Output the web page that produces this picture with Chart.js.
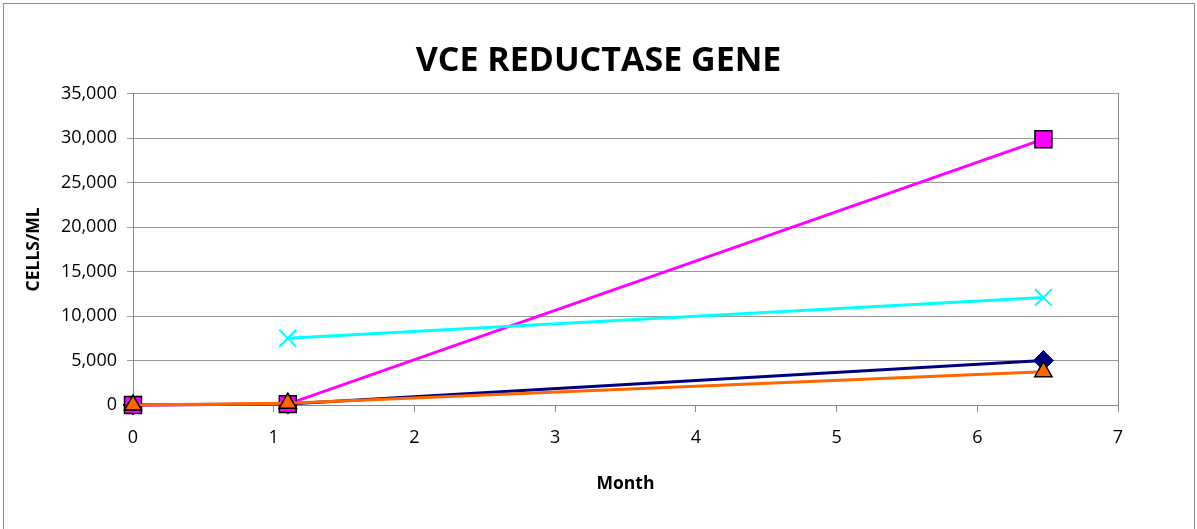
<!DOCTYPE html>
<html>
<head>
<meta charset="utf-8">
<script src="https://cdn.jsdelivr.net/npm/chart.js@4/dist/chart.umd.min.js"></script>
<style>
  body { margin: 0; background: #fff; }
  #wrap { position: absolute; left: 0; top: 0; width: 1197px; height: 529px; }
  #frame { position: absolute; left: 3px; top: 3px; width: 1190px; height: 530px; border: 1px solid #8c8c8c; pointer-events: none; }
</style>
</head>
<body>
<div id="wrap"><canvas id="grafico" width="1197" height="529"></canvas></div>
<div id="frame"></div>
<script>
// datos
const meses = [0, 1.1, 6.47];
const mesesX = [1.1, 6.47];
const serieAzul = [0, 100, 5000];
const serieRosa = [0, 100, 29900];
const serieCian = [7500, 12100];
const serieNaranja = [0, 200, 3750];

const pares = (xs, ys) => xs.map((x, i) => ({ x: x, y: ys[i] }));

const fuente = "'Open Sans', 'Liberation Sans', sans-serif";

const ctx = document.getElementById('grafico').getContext('2d');
new Chart(ctx, {
  type: 'scatter',
  data: {
    datasets: [
      {
        label: 'Serie 1',
        data: pares(meses, serieAzul),
        showLine: true,
        clip: false,
        borderColor: '#000080',
        backgroundColor: '#000080',
        borderWidth: 3,
        pointStyle: 'rectRot',
        pointRadius: 10,
        pointBorderColor: '#000080',
        pointBorderWidth: 1,
        order: 3
      },
      {
        label: 'Serie 2',
        data: pares(meses, serieRosa),
        showLine: true,
        clip: false,
        borderColor: '#ff00ff',
        backgroundColor: '#ff00ff',
        borderWidth: 3,
        pointStyle: 'rect',
        pointRadius: 12,
        pointBorderColor: '#000000',
        pointBorderWidth: 1.5,
        order: 2
      },
      {
        label: 'Serie 3',
        data: pares(mesesX, serieCian),
        showLine: true,
        clip: false,
        borderColor: '#00ffff',
        backgroundColor: '#00ffff',
        borderWidth: 3,
        pointStyle: 'crossRot',
        pointRadius: 12,
        pointBorderColor: '#00ffff',
        pointBorderWidth: 2,
        order: 1
      },
      {
        label: 'Serie 4',
        data: pares(meses, serieNaranja),
        showLine: true,
        clip: false,
        borderColor: '#ff6600',
        backgroundColor: '#ff6600',
        borderWidth: 3,
        pointStyle: 'triangle',
        pointRadius: 10,
        pointBorderColor: '#000000',
        pointBorderWidth: 1.5,
        order: 0
      }
    ]
  },
  options: {
    responsive: false,
    animation: false,
    layout: { padding: 0 },
    plugins: {
      legend: { display: false },
      tooltip: { enabled: false },
      title: {
        display: true,
        text: 'VCE REDUCTASE GENE',
        color: '#000',
        font: { family: fuente, size: 34, weight: 'bold' },
        padding: { top: 41, bottom: 12 }
      }
    },
    scales: {
      x: {
        type: 'linear',
        min: 0,
        max: 7,
        ticks: { stepSize: 1, color: '#000', font: { family: fuente, size: 18 }, padding: 15 },
        grid: { drawOnChartArea: false, color: '#888', tickLength: 7 },
        border: { color: '#888', width: 1 },
        title: { display: true, text: 'Month', color: '#000', font: { family: fuente, size: 17.5, weight: 'bold' }, padding: { top: 4, bottom: 34 } },
        afterFit: s => { s.height = 124; }
      },
      y: {
        min: 0,
        max: 35000,
        ticks: {
          stepSize: 5000,
          color: '#000',
          font: { family: fuente, size: 18 },
          padding: 10,
          callback: v => v.toLocaleString('en-US')
        },
        grid: { color: '#999', tickLength: 6 },
        border: { color: '#888', width: 1 },
        title: { display: true, text: 'CELLS/ML', color: '#000', font: { family: fuente, size: 17.5, weight: 'bold' }, padding: { top: 24, bottom: 4 } },
        afterFit: s => { s.width = 133; }
      },
      // eje derecho solo para el borde del area y el margen
      y2: {
        position: 'right',
        min: 0,
        max: 35000,
        ticks: { display: false },
        grid: { drawOnChartArea: false, drawTicks: false },
        border: { color: '#888', width: 1 },
        afterFit: s => { s.width = 79; }
      }
    }
  }
});
</script>
</body>
</html>
